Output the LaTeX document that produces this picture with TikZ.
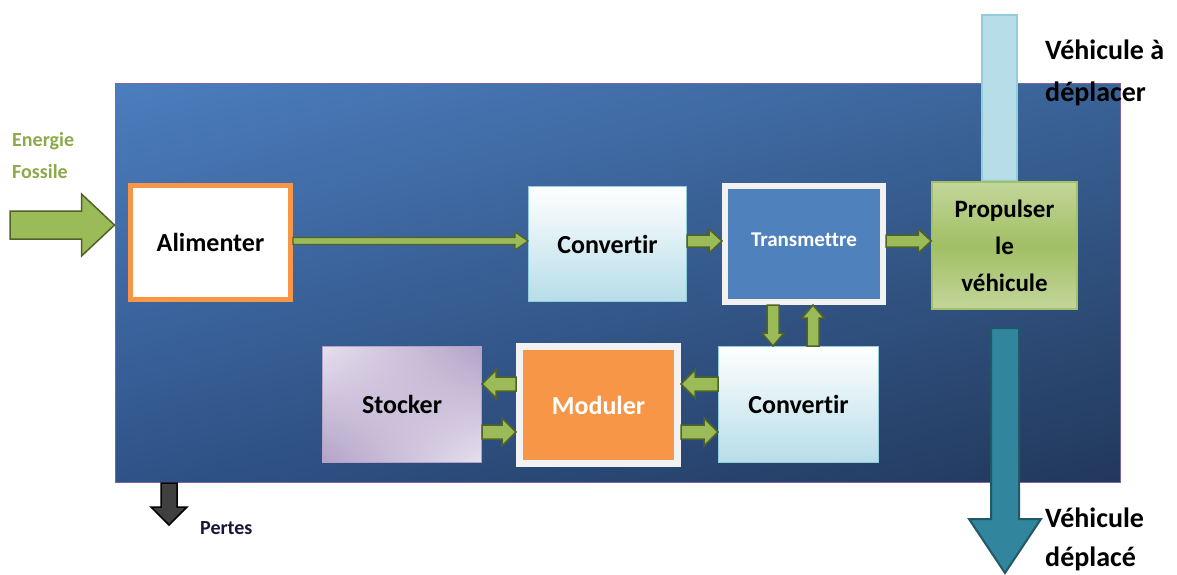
\documentclass[tikz,border=0pt]{standalone}
\usepackage{fontspec}
\setmainfont{Carlito}[Ligatures=NoCommon]
\usetikzlibrary{calc,shadings}
\definecolor{gfill}{HTML}{9BBB59}
\definecolor{gdark}{HTML}{4F6228}
\definecolor{orng}{HTML}{F79646}
\definecolor{tblue}{HTML}{4F81BD}
\definecolor{lblue}{HTML}{B7DDE8}
\definecolor{lblueb}{HTML}{92CDDC}
\definecolor{teal1}{HTML}{31859C}
\definecolor{teal2}{HTML}{215867}
\definecolor{bigA}{HTML}{4C7DBE}
\definecolor{bigB}{HTML}{3A6398}
\definecolor{bigC}{HTML}{2F5388}
\definecolor{bigD}{HTML}{22385B}
\definecolor{bord}{HTML}{8064A2}
\definecolor{plight}{HTML}{E6E0EE}
\definecolor{pdark}{HTML}{B3A2C7}
\definecolor{glight}{HTML}{C3D69B}
\definecolor{energ}{HTML}{8BAA48}
\definecolor{pertes}{HTML}{16163A}
\definecolor{wbord}{HTML}{F2F2F2}
\tikzset{
  baw/.store in=\baw, baH/.store in=\baH, baL/.store in=\baL,
  baw=6pt, baH=12pt, baL=14pt,
  blk/.style={to path={
    ($(\tikztostart)!\baw!90:(\tikztotarget)$) --
    ($(\tikztotarget)!\baL!(\tikztostart)!\baw!90:(\tikztotarget)$) --
    ($(\tikztotarget)!\baL!(\tikztostart)!\baH!90:(\tikztotarget)$) --
    (\tikztotarget) --
    ($(\tikztotarget)!\baL!(\tikztostart)!\baH!-90:(\tikztotarget)$) --
    ($(\tikztotarget)!\baL!(\tikztostart)!\baw!-90:(\tikztotarget)$) --
    ($(\tikztostart)!\baw!-90:(\tikztotarget)$) -- cycle}},
}
\begin{document}
\begin{tikzpicture}[x=1pt,y=-1pt,
  box/.style={rectangle, inner sep=0pt, font=\bfseries\fontsize{26}{30}\selectfont, align=center},
  garr/.style={blk, fill=gfill, draw=gdark, line width=1.5pt, line join=miter},
  lbl/.style={inner sep=0pt, anchor=west, align=left, font=\bfseries\fontsize{28}{42}\selectfont},
]
\useasboundingbox (0,0) rectangle (1177,574);

% system frame
\node[shade, upper left=bigA, upper right=bigB, lower left=bigC, lower right=bigD,
      draw=bord, line width=1pt, minimum width=1005pt, minimum height=399pt, inner sep=0pt]
      (sys) at (617.5,282.5) {};

% light blue bar (vehicle to move)
\draw[fill=lblue, draw=lblueb, line width=1.5pt] (982,15) rectangle (1017,181);

% boxes
\node[box, fill=white, draw=orng, line width=5pt, minimum width=160pt, minimum height=114pt]
  (alim) at (210.5,242.5) {Alimenter};
\node[box, top color=white, bottom color=lblue, draw=lblueb, line width=1pt,
      minimum width=158pt, minimum height=115pt] (conv1) at (607.5,244) {Convertir};
\node[box, fill=tblue, draw=wbord, line width=6pt, minimum width=158pt, minimum height=116pt,
      text=white, font=\bfseries\fontsize{21}{24}\selectfont] (trans) at (804,244) {};
\node[text=white, font=\bfseries\fontsize{21}{24}\selectfont, inner sep=0pt] (transtxt) at (804,240) {Transmettre};
\node[box, top color=glight, bottom color=glight, middle color=gfill!85!glight, draw=gfill!80!glight, line width=1.5pt,
      minimum width=145pt, minimum height=127pt, font=\bfseries\fontsize{25}{37}\selectfont]
  (prop) at (1004.5,245.5) {Propulser\\le\\véhicule};
\node[box, shade, upper left=plight, upper right=pdark, lower left=pdark, lower right=plight,
      draw=pdark, line width=1pt, minimum width=159pt, minimum height=116pt]
  (stock) at (402,404.5) {Stocker};
\node[box, fill=orng, draw=wbord, line width=7pt, minimum width=158pt, minimum height=117pt,
      text=white] (mod) at (598.5,405) {Moduler};
\node[box, top color=white, bottom color=lblue, draw=lblueb, line width=1pt,
      minimum width=160pt, minimum height=116pt] (conv2) at (798.5,404.5) {Convertir};

% coordinates for connectors
\coordinate (e0) at (10,225);
\coordinate (a1) at (alim.east |- 0,241);
\coordinate (c1w) at (conv1.west |- 0,241);
\coordinate (c1e) at (conv1.east |- 0,241);
\coordinate (tw) at (trans.west |- 0,241);
\coordinate (te) at (trans.east |- 0,241);
\coordinate (pw) at (prop.west |- 0,241);
\coordinate (td) at (trans.south -| 773,0);
\coordinate (cd) at (conv2.north -| 773,0);
\coordinate (tu) at (trans.south -| 813,0);
\coordinate (cu) at (conv2.north -| 813,0);
\coordinate (mw1) at (mod.west |- 0,384);
\coordinate (se1) at (stock.east |- 0,384);
\coordinate (mw2) at (mod.west |- 0,432);
\coordinate (se2) at (stock.east |- 0,432);
\coordinate (me1) at (mod.east |- 0,384);
\coordinate (cw1) at (conv2.west |- 0,384);
\coordinate (me2) at (mod.east |- 0,432);
\coordinate (cw2) at (conv2.west |- 0,432);
\coordinate (t0) at (1005,328);
\coordinate (t1) at (1005,573);
\coordinate (p0) at (169,483);
\coordinate (p1) at (169,525);

% connectors
\draw[garr, baw=14pt, baH=31pt, baL=33pt] (e0) to (sys.west |- e0);
\draw[garr, baw=3.5pt, baH=9pt, baL=13pt, line width=1.2pt] (a1) to (c1w);
\draw[garr, baw=6pt, baH=12pt, baL=13pt] (c1e) to (tw);
\draw[garr, baw=6pt, baH=12pt, baL=13pt] (te) to (pw);
\draw[garr, baw=6pt, baH=11pt, baL=13pt] (td) to (cd);
\draw[garr, baw=6pt, baH=11pt, baL=13pt] (cu) to (tu);
\draw[garr, baw=7pt, baH=14pt, baL=14pt] (mw1) to (se1);
\draw[garr, baw=7pt, baH=14pt, baL=14pt] (se2) to (mw2);
\draw[garr, baw=7pt, baH=14pt, baL=14pt] (cw1) to (me1);
\draw[garr, baw=7pt, baH=14pt, baL=14pt] (me2) to (cw2);
\draw[blk, baw=14pt, baH=36pt, baL=54pt, fill=teal1, draw=teal2, line width=2pt, line join=miter] (t0) to (t1);
\draw[blk, baw=8pt, baH=18pt, baL=18pt, fill=black!75, draw=black, line width=1.5pt, line join=miter] (p0) to (p1);

% labels
\node[lbl, text=energ, font=\bfseries\fontsize{20}{32}\selectfont] (energie) at (12,156) {Energie\\Fossile};
\node[lbl] (vad) at (1045,73) {Véhicule à\\déplacer};
\node[lbl, font=\bfseries\fontsize{28}{39}\selectfont] (vd) at (1045,539) {Véhicule\\déplacé};
\node[lbl, text=pertes, font=\bfseries\fontsize{20}{24}\selectfont] (pertes) at (200,528) {Pertes};
\end{tikzpicture}
\end{document}
